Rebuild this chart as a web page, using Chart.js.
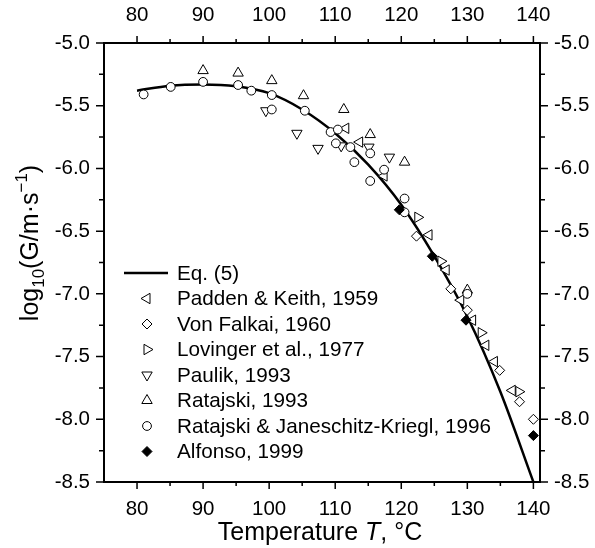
<!DOCTYPE html>
<html>
<head>
<meta charset="utf-8">
<script src="https://cdn.jsdelivr.net/npm/chart.js@4.4.1/dist/chart.umd.min.js"></script>
<style>
  html, body { margin: 0; padding: 0; background: #fff; }
</style>
</head>
<body>
<canvas id="c" width="595" height="548"></canvas>
<script>
const FONT = '"Liberation Sans", Arial, sans-serif';

// axis ticks
const xTicks = [80, 90, 100, 110, 120, 130, 140];
const xMinor = [85, 95, 105, 115, 125, 135];
const yTicks = [-5.0, -5.5, -6.0, -6.5, -7.0, -7.5, -8.0, -8.5];
const yMinor = [-5.25, -5.75, -6.25, -6.75, -7.25, -7.75, -8.25];

// Eq. (5) curve
const eqT = [80, 85, 90, 95, 100, 105, 110, 115, 120, 125, 130, 135, 140];
const eqG = [-5.38, -5.34, -5.33, -5.345, -5.40, -5.53, -5.72, -5.97, -6.29, -6.70, -7.18, -7.78, -8.50];

// measured growth rates
const paddenT = [111.6, 113.7, 117.4, 124.2, 126.8, 129.0, 130.8, 132.8, 134.1, 136.8];
const paddenG = [-5.68, -5.79, -6.06, -6.53, -6.81, -7.05, -7.21, -7.41, -7.54, -7.77];

const falkaiT = [122.3, 127.5, 130.0, 134.9, 137.9, 140.0];
const falkaiG = [-6.54, -6.96, -7.13, -7.61, -7.86, -8.00];

const lovingerT = [122.5, 126.0, 132.1, 137.8];
const lovingerG = [-6.39, -6.74, -7.31, -7.78];

const paulikT = [99.5, 104.2, 107.4, 110.9, 115.1, 118.2];
const paulikG = [-5.54, -5.72, -5.84, -5.82, -5.83, -5.91];

const ratajskiT = [90.0, 95.3, 100.4, 105.2, 111.3, 115.3, 120.5, 130.0];
const ratajskiG = [-5.22, -5.24, -5.30, -5.42, -5.53, -5.73, -5.95, -6.97];

const rjkT = [81.0, 85.1, 90.0, 95.3, 97.3, 100.4, 100.4, 105.4, 109.3, 110.4, 110.1, 112.3, 112.9, 115.3, 115.3, 117.4, 120.5, 120.5, 130.0];
const rjkG = [-5.41, -5.35, -5.31, -5.335, -5.38, -5.415, -5.53, -5.54, -5.71, -5.69, -5.80, -5.83, -5.95, -5.88, -6.10, -6.01, -6.24, -6.35, -7.00];

const alfonsoT = [119.7, 124.7, 129.8, 140.0];
const alfonsoG = [-6.33, -6.70, -7.21, -8.13];

const pts = (xs, ys) => xs.map((x, i) => ({ x: x, y: ys[i] }));

function markers(label, xs, ys, style, rot, r, fill, order) {
    return {
        label: label, data: pts(xs, ys), order: order,
        pointStyle: style, pointRotation: rot, pointRadius: r, pointHoverRadius: r,
        backgroundColor: fill, borderColor: '#000', pointBorderWidth: 1
    };
}

const datasets = [
    { label: 'Eq. (5)', data: pts(eqT, eqG), showLine: true, pointRadius: 0, borderColor: '#000',
      borderWidth: 2.5, cubicInterpolationMode: 'monotone', order: 10 },
    markers('Padden & Keith, 1959', paddenT, paddenG, 'triangle', -90, 6, '#fff', 6),
    markers('Von Falkai, 1960', falkaiT, falkaiG, 'rectRot', 0, 5, '#fff', 5),
    markers('Lovinger et al., 1977', lovingerT, lovingerG, 'triangle', 90, 6, '#fff', 4),
    markers('Paulik, 1993', paulikT, paulikG, 'triangle', 180, 6, '#fff', 3),
    markers('Ratajski, 1993', ratajskiT, ratajskiG, 'triangle', 0, 6, '#fff', 2),
    markers('Ratajski & Janeschitz-Kriegl, 1996', rjkT, rjkG, 'circle', 0, 4.4, '#fff', 1),
    markers('Alfonso, 1999', alfonsoT, alfonsoG, 'rectRot', 0, 5, '#000', 0)
];

function axis(pos, size, isX) {
    return {
        type: 'linear', position: pos, axis: isX ? 'x' : 'y',
        min: isX ? 75 : -8.5, max: isX ? 141 : -5.0,
        grid: { display: false, drawTicks: false },
        border: { display: true, width: 2, color: '#000' },
        afterBuildTicks: s => { s.ticks = (isX ? xTicks : yTicks).map(v => ({ value: v })); },
        afterFit: s => { if (isX) s.height = size; else s.width = size; },
        ticks: {
            color: '#000', font: { family: FONT, size: 20.5 }, autoSkip: false, maxRotation: 0,
            padding: isX ? 15 : 14,
            callback: v => isX ? String(v) : Number(v).toFixed(1)
        }
    };
}

// tick marks, both axes and both sides
const tickMarks = {
    id: 'tickMarks',
    afterDraw(chart) {
        const { ctx, chartArea: a, scales } = chart;
        ctx.save();
        ctx.strokeStyle = '#000';
        ctx.lineWidth = 1.5;
        ctx.beginPath();
        const xt = (vals, len) => vals.forEach(v => {
            const px = scales.x.getPixelForValue(v);
            ctx.moveTo(px, a.bottom); ctx.lineTo(px, a.bottom + len);
            ctx.moveTo(px, a.top); ctx.lineTo(px, a.top - len);
        });
        const yt = (vals, len) => vals.forEach(v => {
            const py = scales.y.getPixelForValue(v);
            ctx.moveTo(a.left, py); ctx.lineTo(a.left - len, py);
            ctx.moveTo(a.right, py); ctx.lineTo(a.right + len, py);
        });
        xt(xTicks, 7); xt(xMinor, 4);
        yt(yTicks, 8); yt(yMinor, 5);
        ctx.stroke();
        ctx.restore();
    }
};

// axis titles with italics, sub- and superscripts
const titles = {
    id: 'titles',
    afterDraw(chart) {
        const ctx = chart.ctx;
        ctx.save();
        ctx.fillStyle = '#000';
        ctx.textBaseline = 'alphabetic';

        // x title
        const xs = [['Temperature ', 'normal'], ['T', 'italic'], [', °C', 'normal']];
        let w = 0;
        xs.forEach(p => { ctx.font = p[1] + ' 25px ' + FONT; w += ctx.measureText(p[0]).width; });
        let x = 320 - w / 2;
        xs.forEach(p => { ctx.font = p[1] + ' 25px ' + FONT; ctx.fillText(p[0], x, 540); x += ctx.measureText(p[0]).width; });

        // y title
        const ys = [['log', 25, 0], ['10', 17, 6], ['(G/m·s', 25, 0], ['\u22121', 17, -11], [')', 25, 0]];
        ctx.translate(38, 243);
        ctx.rotate(-Math.PI / 2);
        w = 0;
        ys.forEach(p => { ctx.font = p[1] + 'px ' + FONT; w += ctx.measureText(p[0]).width; });
        x = -w / 2;
        ys.forEach(p => { ctx.font = p[1] + 'px ' + FONT; ctx.fillText(p[0], x, p[2]); x += ctx.measureText(p[0]).width; });
        ctx.restore();
    }
};

// legend inside the plot, lower left
const insideLegend = {
    id: 'insideLegend',
    afterDraw(chart) {
        const ctx = chart.ctx;
        const rowY0 = 273, rowH = 25.5, markX = 147, textX = 177;
        ctx.save();
        ctx.font = '20.7px ' + FONT;
        ctx.textBaseline = 'middle';
        chart.data.datasets.forEach((ds, i) => {
            const y = rowY0 + i * rowH;
            ctx.strokeStyle = '#000';
            if (ds.showLine) {
                ctx.lineWidth = ds.borderWidth;
                ctx.beginPath(); ctx.moveTo(124, y); ctx.lineTo(168, y); ctx.stroke();
            } else {
                ctx.fillStyle = ds.backgroundColor;
                ctx.lineWidth = 1;
                Chart.helpers.drawPoint(ctx, {
                    pointStyle: ds.pointStyle, rotation: ds.pointRotation,
                    radius: ds.pointRadius, borderWidth: 1
                }, markX, y);
            }
            ctx.fillStyle = '#000';
            ctx.fillText(ds.label, textX, y + 1);
        });
        ctx.restore();
    }
};

new Chart(document.getElementById('c'), {
    type: 'scatter',
    data: { datasets: datasets },
    options: {
        responsive: false, animation: false, events: [],
        layout: { padding: 0 },
        plugins: { legend: { display: false }, tooltip: { enabled: false } },
        scales: {
            x: axis('bottom', 66, true),
            x2: axis('top', 43, true),
            y: axis('left', 104, false),
            y2: axis('right', 55, false)
        }
    },
    plugins: [tickMarks, titles, insideLegend]
});
</script>
</body>
</html>
